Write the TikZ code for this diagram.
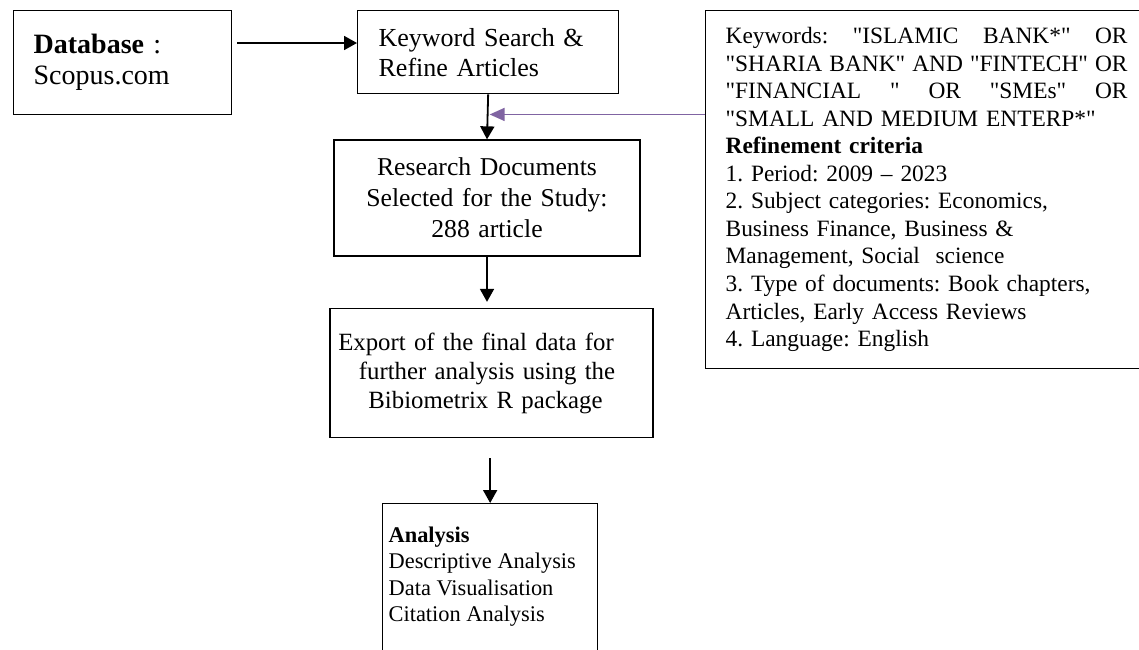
\documentclass[tikz,border=0pt]{standalone}
\usepackage{fontspec}
\setmainfont{Liberation Serif}[Ligatures=TeXOff]
\usetikzlibrary{arrows.meta,calc}
\definecolor{violetline}{RGB}{128,100,162}
\newcommand{\js}{\hspace{0.2em plus 1fill}}
\begin{document}
\frenchspacing
\begin{tikzpicture}[x=1pt,y=-1pt,
  box/.style={draw=black,line width=1.3pt,inner sep=0pt},
  arr/.style={line width=1.8pt,-{Triangle[length=13pt,width=14pt]}},
  parr/.style={draw=violetline,line width=1.6pt,-{Triangle[length=15pt,width=13pt]}}]
\useasboundingbox (0,0) rectangle (1139,649);

\node[box,anchor=north west,minimum width=218pt,minimum height=104pt,text width=178pt,align=left,
  font=\fontsize{28}{31}\selectfont\frenchspacing] (db) at (13,10) {\textbf{Database} :\\Scopus.com\\[-25pt]\mbox{}};

\node[box,anchor=north west,minimum width=261pt,minimum height=83pt,text width=219pt,align=left,
  font=\fontsize{26}{30}\selectfont\frenchspacing] (kw) at (357,10) {Keyword Search \&\\Refine Articles};

\node[box,minimum width=306pt,minimum height=116pt,text width=300pt,align=center,
  font=\fontsize{25.7}{31}\selectfont\frenchspacing] (res) at (487,198) {Research Documents\\Selected for the Study:\\288 article};

\node[box,minimum width=323pt,minimum height=129pt,text width=318pt,align=center,
  font=\fontsize{24.8}{29}\selectfont\frenchspacing] (ex) at (491.5,373)
  {\mbox{Export of the final data for\hspace{31pt}}\\\mbox{further analysis using the\hspace{9pt}}\\\mbox{Bibiometrix R package\hspace{12pt}}};

\node[box,anchor=north west,minimum width=215pt,inner xsep=6pt,inner ysep=23pt,align=left,
  font=\fontsize{22.4}{26.5}\selectfont\frenchspacing] (an) at (382,503)
  {\parbox[t][150pt][t]{203pt}{\textbf{Analysis}\\Descriptive Analysis\\Data Visualisation\\Citation Analysis}};

\node[box,anchor=north west,minimum height=358pt,text width=402pt,inner xsep=20pt,align=left,
  font=\fontsize{23.4}{27.5}\selectfont\frenchspacing] (rb) at (705,10)
  {\makebox[402pt][l]{Keywords:\js"ISLAMIC\js BANK*"\js OR}\\
   \makebox[402pt][l]{"SHARIA\js BANK"\js AND\js "FINTECH"\js OR}\\
   \makebox[402pt][l]{"FINANCIAL\js "\js OR\js "SMEs"\js OR}\\
   "SMALL AND MEDIUM ENTERP*"\\
   \textbf{Refinement criteria}\\
   1. Period: 2009 – 2023\\
   2. Subject categories: Economics,\\
   Business Finance, Business \&\\
   Management, Social\ \ science\\
   3. Type of documents: Book chapters,\\
   Articles, Early Access Reviews\\
   4. Language: English};

\draw[arr] ($(db.north east)+(5,33)$) -- ($(kw.north west)+(0,33)$);
\draw[arr] (kw.south) -- (res.north);
\coordinate (m) at ($(kw.south)!0.447!(res.north)$);
\draw[parr] (rb.west |- m) -- ([xshift=2pt]m);
\draw[arr,shorten >=6pt] (res.south) -- (res.south |- ex.north);
\draw[arr] ([yshift=-20pt]an.north |- ex.south) -- (an.north);
\end{tikzpicture}
\end{document}
